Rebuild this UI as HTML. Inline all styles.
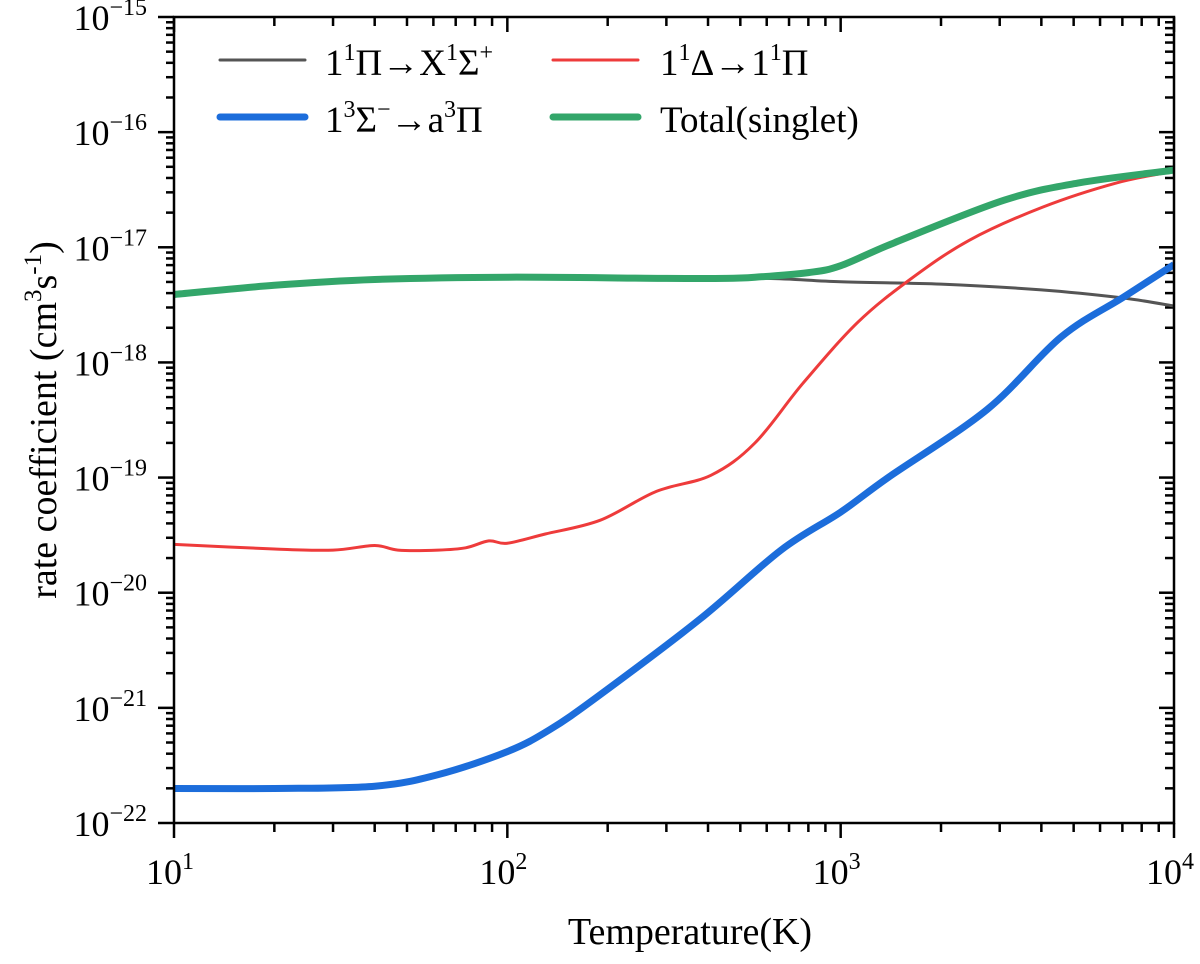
<!DOCTYPE html>
<html><head><meta charset="utf-8"><style>
html,body{margin:0;padding:0;background:#fff;}
svg{display:block;}
svg text{font-family:"Liberation Serif","DejaVu Serif",serif;}
</style></head><body>
<svg id="chart" width="1200" height="964" viewBox="0 0 1200 964" xmlns="http://www.w3.org/2000/svg" font-family="Liberation Serif, serif">
<defs><clipPath id="clip"><rect x="174" y="17" width="1001" height="807"/></clipPath></defs>
<g id="ticks"></g>
<g id="series" clip-path="url(#clip)"></g>
<rect x="174" y="17" width="1000" height="806" fill="none" stroke="#000" stroke-width="2.5"/>
<text x="690" y="944" font-size="38" text-anchor="middle" font-family="Liberation Serif, serif">Temperature(K)</text>
<text transform="translate(56,420) rotate(-90)" font-size="38" text-anchor="middle" font-family="Liberation Serif, serif">rate coefficient (cm<tspan dy="-15" font-size="25">3</tspan><tspan dy="15">s</tspan><tspan dy="-15" font-size="25">-1</tspan><tspan dy="15">)</tspan></text>
<g font-size="37" font-family="Liberation Serif, serif">
 <line x1="220" y1="60" x2="305" y2="60" stroke="#555" stroke-width="3" stroke-linecap="round"/>
 <text x="325" y="75">1<tspan dy="-15" font-size="24">1</tspan><tspan dy="15">Π→X</tspan><tspan dy="-15" font-size="24">1</tspan><tspan dy="15">Σ</tspan><tspan dy="-15" font-size="24">+</tspan></text>
 <line x1="553" y1="60" x2="638" y2="60" stroke="#ee3b3b" stroke-width="3" stroke-linecap="round"/>
 <text x="660" y="75">1<tspan dy="-15" font-size="24">1</tspan><tspan dy="15">Δ→1</tspan><tspan dy="-15" font-size="24">1</tspan><tspan dy="15">Π</tspan></text>
 <line x1="220" y1="117" x2="305" y2="117" stroke="#1c6ddb" stroke-width="7" stroke-linecap="round"/>
 <text x="325" y="132">1<tspan dy="-15" font-size="24">3</tspan><tspan dy="15">Σ</tspan><tspan dy="-15" font-size="24">−</tspan><tspan dy="15">→a</tspan><tspan dy="-15" font-size="24">3</tspan><tspan dy="15">Π</tspan></text>
 <line x1="553" y1="117" x2="638" y2="117" stroke="#33a66a" stroke-width="7" stroke-linecap="round"/>
 <text x="660" y="132">Total(singlet)</text>
</g>
</svg>
<script>
const grayT=[10,20,40,100,300,600,1000,2000,4000,7000,10000];
const grayLog=[-17.41,-17.33,-17.28,-17.26,-17.27,-17.27,-17.30,-17.32,-17.37,-17.44,-17.51];
const redT=[10,20,30,40,47,62,75,88,100,130,190,280,408,553,771,1127,1614,2427,4045,6745,10000];
const redLog=[-19.58,-19.62,-19.63,-19.59,-19.63,-19.63,-19.61,-19.55,-19.57,-19.49,-19.37,-19.12,-18.98,-18.70,-18.18,-17.65,-17.28,-16.94,-16.65,-16.44,-16.34];
const blueT=[10,20,40,62,100,134,189,378,662,1000,1387,2748,4581,7080,10000];
const blueLog=[-21.70,-21.70,-21.68,-21.58,-21.38,-21.19,-20.89,-20.23,-19.63,-19.30,-19.00,-18.41,-17.78,-17.43,-17.15];
const greenT=[10,20,40,100,300,450,553,800,1000,1450,3100,5200,10000];
const greenLog=[-17.41,-17.33,-17.28,-17.26,-17.27,-17.27,-17.26,-17.22,-17.16,-16.96,-16.59,-16.44,-16.33];
const xTickExps=[1,2,3,4];
const yTickExps=[-15,-16,-17,-18,-19,-20,-21,-22];
const NS="http://www.w3.org/2000/svg";
const X0=174,X1=1174,Y0=17,Y1=823;
function xs(t){return X0+(Math.log10(t)-1)/3*(X1-X0);}
function ys(e){return Y0+(-15-e)/7*(Y1-Y0);}
function mk(tag,attrs,parent){const el=document.createElementNS(NS,tag);for(const k in attrs)el.setAttribute(k,attrs[k]);parent.appendChild(el);return el;}
const tg=document.getElementById('ticks');
for(let d=1;d<=4;d++){
 for(let m=1;m<=9;m++){
  if(d===4&&m>1)break;
  const x=xs(m*Math.pow(10,d));
  const major=m===1;
  const l=mk('line',{x1:x,x2:x,y1:Y1,y2:Y1+(major?15:9),stroke:'#000','stroke-width':2.5},tg);
  
  
  const l2=mk('line',{x1:x,x2:x,y1:Y0,y2:Y0+(major?15:9),stroke:'#000','stroke-width':2.5},tg);
  
  
 }
}
xTickExps.forEach(e=>{
 const t=mk('text',{x:xs(Math.pow(10,e))-4,y:884,'font-size':36,'text-anchor':'middle','font-family':'Liberation Serif, serif'},tg);
 
 
 t.innerHTML='10<tspan dy="-15" font-size="24">'+e+'</tspan>';
});
for(let e=-22;e<=-16;e++){
 for(let m=1;m<=9;m++){
  const y=ys(e+Math.log10(m));
  const major=m===1;
  const l=mk('line',{x1:X0-(major?16:8),x2:X0,y1:y,y2:y,stroke:'#000','stroke-width':2.5},tg);
  
  
  const l2=mk('line',{x1:X1-(major?15:9),x2:X1,y1:y,y2:y,stroke:'#000','stroke-width':2.5},tg);
  
  
 }
}
{const l=mk('line',{x1:X0-16,x2:X0,y1:ys(-15),y2:ys(-15),stroke:'#000','stroke-width':2.5},tg);
 
 }
yTickExps.forEach(e=>{
 const t=mk('text',{x:147,y:ys(e)+13,'font-size':36,'text-anchor':'end','font-family':'Liberation Serif, serif'},tg);
 
 
 t.innerHTML='10<tspan dy="-15" font-size="24">−'+(-e)+'</tspan>';
});
const sg=document.getElementById('series');
function line(ts,vals,color,w,name){
 const p=ts.map((t,i)=>[xs(t),ys(vals[i])]);
 let d='M'+p[0][0].toFixed(1)+','+p[0][1].toFixed(1);
 for(let i=0;i<p.length-1;i++){
  const p0=p[Math.max(0,i-1)],p1=p[i],p2=p[i+1],p3=p[Math.min(p.length-1,i+2)];
  const c1=[p1[0]+(p2[0]-p0[0])/6,p1[1]+(p2[1]-p0[1])/6];
  const c2=[p2[0]-(p3[0]-p1[0])/6,p2[1]-(p3[1]-p1[1])/6];
  d+=' C'+c1[0].toFixed(1)+','+c1[1].toFixed(1)+' '+c2[0].toFixed(1)+','+c2[1].toFixed(1)+' '+p2[0].toFixed(1)+','+p2[1].toFixed(1);
 }
 const el=mk('path',{d:d,fill:'none',stroke:color,'stroke-width':w,'stroke-linejoin':'round'},sg);
 
 
}
line(grayT,grayLog,'#555',3,'series-gray-1Pi-X1Sigma');
line(redT,redLog,'#ee3b3b',3,'series-red-1Delta-1Pi');
line(blueT,blueLog,'#1c6ddb',7,'series-blue-1Sigma-a3Pi');
line(greenT,greenLog,'#33a66a',7,'series-green-total-singlet');
</script>
</body></html>
